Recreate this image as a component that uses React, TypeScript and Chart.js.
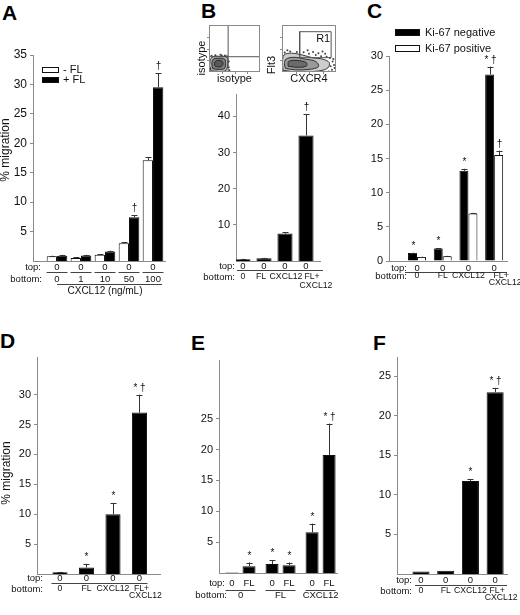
import React, { useEffect, useRef } from "react";
import { Chart, registerables } from "chart.js";

Chart.register(...registerables);

const FONT = '"Liberation Sans", Arial, Helvetica, sans-serif';
const INK = "#111";
const AXIS = "#8a8a8a";
const RULE = "#444";
const ROW = 9.5;
const CAT = 8.7;
const Y_W = 28;

// ---------- panel A: CXCL12 dose, with and without FL
const aDoses = ["0", "1", "10", "50", "100"];
const aTop = ["0", "0", "0", "0", "0"];
const aDoseTitle = "CXCL12 (ng/mL)";
const aMinusFl = [0.8, 0.5, 1.05, 3.0, 17.1];
const aMinusFlErr = [0.1, 0.1, 0.1, 0.2, 0.5];
const aMinusFlMarks = ["", "", "", "", ""];
const aPlusFl = [0.9, 0.95, 1.6, 7.45, 29.5];
const aPlusFlErr = [0.15, 0.1, 0.15, 0.35, 2.4];
const aPlusFlMarks = ["", "", "", "†", "†"];
const aTicks = [5, 10, 15, 20, 25, 30, 35];
const yTitle = "% migration";

// ---------- panel B: flow plots + migration
const bTop = ["0", "0", "0", "0"];
const bBottom = ["0", "FL", "CXCL12", "FL+\nCXCL12"];
const bValues = [0.5, 0.75, 7.6, 34.7];
const bErr = [0.1, 0.1, 0.4, 5.9];
const bMarks = ["", "", "", "†"];
const bTicks = [10, 20, 30, 40];

const flowDecades = [1, 2, 3];
const isoOuter: [number, number][] = [[0.15, 0.1], [0.7, 0.05], [1.3, 0.1], [1.47, 0.6], [1.42, 1.25], [0.9, 1.33], [0.3, 1.3], [0.07, 0.95], [0.05, 0.45], [0.15, 0.1]];
const isoMid: [number, number][] = [[0.3, 0.28], [0.8, 0.22], [1.22, 0.3], [1.3, 0.7], [1.22, 1.1], [0.75, 1.16], [0.33, 1.08], [0.22, 0.68], [0.3, 0.28]];
const isoInner: [number, number][] = [[0.5, 0.48], [0.92, 0.44], [1.1, 0.7], [0.98, 0.95], [0.56, 0.95], [0.42, 0.7], [0.5, 0.48]];
const isoDots: [number, number][] = [[0.1, 0.3], [0.2, 1.38], [0.5, 1.42], [1.0, 1.4], [1.4, 1.33], [1.55, 0.9], [1.55, 0.4], [0.04, 0.8], [1.3, 0.05], [0.6, 0.02], [0.9, 1.47], [1.6, 0.15], [1.25, 1.4], [0.35, 0.02]];
const isoVLine: [number, number][] = [[1.5, 0], [1.5, 4]];
const isoHLine: [number, number][] = [[0, 1.3], [4, 1.3]];

const cxOuter: [number, number][] = [[0.08, 0.15], [0.8, 0.03], [1.8, 0.03], [2.8, 0.1], [3.4, 0.35], [3.5, 0.8], [3.0, 1.1], [2.3, 1.2], [1.5, 1.45], [0.7, 1.6], [0.15, 1.45], [0.04, 0.8], [0.08, 0.15]];
const cxMid: [number, number][] = [[0.25, 0.3], [1.0, 0.18], [2.0, 0.22], [2.7, 0.45], [2.5, 0.9], [1.7, 1.1], [0.9, 1.25], [0.3, 1.1], [0.18, 0.7], [0.25, 0.3]];
const cxInner: [number, number][] = [[0.45, 0.5], [1.1, 0.4], [1.8, 0.5], [1.8, 0.8], [1.1, 0.98], [0.5, 0.9], [0.45, 0.5]];
const cxDots: [number, number][] = [[3.6, 0.5], [3.7, 0.2], [3.75, 0.9], [3.55, 1.2], [3.3, 1.3], [2.9, 1.35], [2.5, 1.45], [2.0, 1.55], [1.1, 1.7], [0.6, 1.75], [0.2, 1.65], [3.85, 0.6], [3.2, 1.55], [2.7, 1.6], [1.6, 1.68], [0.4, 1.85], [3.8, 1.1], [3.45, 0.05], [3.9, 0.35], [2.3, 1.7], [1.9, 1.85], [3.0, 1.75]];
const r1Gate: [number, number][] = [[1.31, 1.22], [3.64, 1.22], [3.64, 3.43], [1.31, 3.43], [1.31, 1.22]];

// ---------- panel C: Ki-67 negative / positive
const cTop = ["0", "0", "0", "0"];
const cBottom = ["0", "FL", "CXCL12", "FL+\nCXCL12"];
const cNeg = [1.17, 1.83, 13.2, 27.3];
const cNegErr = [0.05, 0.05, 0.3, 1.15];
const cNegMarks = ["*", "*", "*", "* †"];
const cPos = [0.6, 0.7, 6.95, 15.5];
const cPosErr = [0.05, 0.05, 0.1, 0.65];
const cPosMarks = ["", "", "", "†"];
const cTicks = [0, 5, 10, 15, 20, 25, 30];

// ---------- panel D
const dTop = ["0", "0", "0", "0"];
const dBottom = ["0", "FL", "CXCL12", "FL+\nCXCL12"];
const dValues = [0.3, 1.1, 10.0, 27.0];
const dErr = [0.05, 0.6, 1.9, 3.0];
const dMarks = ["", "*", "*", "* †"];
const dTicks = [5, 10, 15, 20, 25, 30];

// ---------- panel E: top chamber 0 / FL
const eBottom = ["0", "FL", "CXCL12"];
const eTopZero = [0.1, 1.45, 6.6];
const eTopZeroErr = [0, 0.6, 1.4];
const eTopZeroMarks = ["", "*", "*"];
const eTopFl = [1.1, 1.25, 19.1];
const eTopFlErr = [0.6, 0.45, 5.1];
const eTopFlMarks = ["*", "*", "* †"];
const eTicks = [5, 10, 15, 20, 25];

// ---------- panel F
const fTop = ["0", "0", "0", "0"];
const fBottom = ["0", "FL", "CXCL12", "FL+\nCXCL12"];
const fValues = [0.3, 0.4, 11.75, 22.95];
const fErr = [0, 0, 0.25, 0.55];
const fMarks = ["", "", "*", "* †"];
const fTicks = [5, 10, 15, 20, 25];

type Box = { x: number; y: number; w: number; h: number };
type Area = { left: number; top: number; right: number; bottom: number };
type Series = { label: string; values: number[]; errors: number[]; marks: string[]; fill: string };

function padFor(box: Box, area: Area, yw: number) {
  return {
    left: area.left - box.x - yw,
    top: area.top - box.y,
    right: box.x + box.w - area.right,
    bottom: box.y + box.h - area.bottom,
  };
}

function text(ctx: any, str: string, x: number, y: number, size: number, align = "center", baseline = "middle") {
  ctx.save();
  ctx.font = `${size}px ${FONT}`;
  ctx.fillStyle = INK;
  ctx.textAlign = align;
  ctx.textBaseline = baseline;
  ctx.fillText(str, x, y);
  ctx.restore();
}

function vtext(ctx: any, str: string, x: number, y: number, size: number) {
  ctx.save();
  ctx.translate(x, y);
  ctx.rotate(-Math.PI / 2);
  text(ctx, str, 0, 0, size);
  ctx.restore();
}

function hline(ctx: any, x1: number, x2: number, y: number) {
  ctx.save();
  ctx.strokeStyle = RULE;
  ctx.lineWidth = 1;
  ctx.beginPath();
  ctx.moveTo(x1, Math.round(y) + 0.5);
  ctx.lineTo(x2, Math.round(y) + 0.5);
  ctx.stroke();
  ctx.restore();
}

// stacked labels such as "FL+ / CXCL12"
function rowLabels(ctx: any, labels: string[], px: (i: number) => number, y: number, gap: number, shift: number) {
  labels.forEach((l, i) => {
    const lines = l.split("\n");
    const dx = lines.length > 1 ? shift : 0;
    lines.forEach((s, k) => text(ctx, s, px(i) + dx + k * 4, y + k * gap, CAT));
  });
}

function drawErrors(chart: any, series: Series[]) {
  const { ctx } = chart;
  const y = chart.scales.y;
  series.forEach((s, di) => {
    chart.getDatasetMeta(di).data.forEach((el: any, i: number) => {
      const err = s.errors[i];
      const top = y.getPixelForValue(s.values[i] + err);
      const cx = Math.round(el.x) + 0.5;
      if (err > 0) {
        ctx.save();
        ctx.strokeStyle = "#333";
        ctx.lineWidth = 1;
        ctx.beginPath();
        ctx.moveTo(cx, el.y);
        ctx.lineTo(cx, top);
        ctx.moveTo(cx - 3, Math.round(top) + 0.5);
        ctx.lineTo(cx + 3, Math.round(top) + 0.5);
        ctx.stroke();
        ctx.restore();
      }
      if (s.marks[i]) text(ctx, s.marks[i], cx, top - 4, 10, "center", "alphabetic");
    });
  });
}

function drawLegend(ctx: any, chart: any, x: number, y: number, w: number, h: number, step: number, gap: number) {
  chart.data.datasets.forEach((d: any, i: number) => {
    const ry = y + i * step;
    ctx.save();
    ctx.fillStyle = d.backgroundColor;
    ctx.fillRect(x, ry, w, h);
    ctx.strokeStyle = INK;
    ctx.lineWidth = 1;
    ctx.strokeRect(x + 0.5, ry + 0.5, w - 1, h - 1);
    ctx.restore();
    text(ctx, d.label, x + w + gap, ry + h / 2, 11, "left");
  });
}

type BarPanel = {
  box: Box;
  area: Area;
  xMin: number;
  xMax: number;
  yMax: number;
  yTicks: number[];
  series: Series[];
  cat: number;
  bar: number;
  tickSize: number;
  decorate: (chart: any) => void;
};

function barConfig(p: BarPanel) {
  return {
    type: "bar",
    data: {
      datasets: p.series.map((s) => ({
        label: s.label,
        data: s.values.map((v, i) => ({ x: i, y: v })),
        backgroundColor: s.fill,
        borderColor: INK,
        borderWidth: 1,
        categoryPercentage: p.cat,
        barPercentage: p.bar,
      })),
    },
    options: {
      animation: false,
      responsive: true,
      maintainAspectRatio: false,
      events: [],
      layout: { padding: padFor(p.box, p.area, Y_W) },
      plugins: { legend: { display: false }, tooltip: { enabled: false } },
      scales: {
        x: {
          type: "linear",
          min: p.xMin,
          max: p.xMax,
          offset: false,
          afterBuildTicks: (s: any) => {
            s.ticks = [];
          },
          ticks: { display: false },
          grid: { display: false },
          border: { display: true, color: AXIS, width: 1 },
        },
        y: {
          type: "linear",
          min: 0,
          max: p.yMax,
          afterFit: (s: any) => {
            s.width = Y_W;
          },
          afterBuildTicks: (s: any) => {
            s.ticks = p.yTicks.map((v) => ({ value: v }));
          },
          ticks: { color: INK, padding: 3, font: { family: FONT, size: p.tickSize } },
          grid: { display: true, drawOnChartArea: false, drawTicks: true, tickLength: 3, color: AXIS },
          border: { display: true, color: AXIS, width: 1 },
        },
      },
    },
    plugins: [
      {
        id: "decor",
        afterDraw: (chart: any) => {
          drawErrors(chart, p.series);
          p.decorate(chart);
        },
      },
    ],
  };
}

const pts = (a: [number, number][]) => a.map(([x, y]) => ({ x, y }));
const contour = (a: [number, number][], shade: string) => ({
  data: pts(a),
  showLine: true,
  borderColor: "#222",
  borderWidth: 0.9,
  backgroundColor: shade,
  fill: "shape",
  pointRadius: 0,
  tension: 0.35,
});
const dots = (a: [number, number][]) => ({
  data: pts(a),
  showLine: false,
  pointRadius: 1,
  pointBackgroundColor: "#444",
  pointBorderWidth: 0,
});
const rule = (a: [number, number][]) => ({
  data: pts(a),
  showLine: true,
  borderColor: "#555",
  borderWidth: 1,
  pointRadius: 0,
  tension: 0,
});

function flowConfig(box: Box, area: Area, datasets: any[], decorate: (c: any) => void) {
  return {
    type: "scatter",
    data: { datasets },
    options: {
      animation: false,
      responsive: true,
      maintainAspectRatio: false,
      events: [],
      layout: { padding: padFor(box, area, 0) },
      plugins: { legend: { display: false }, tooltip: { enabled: false } },
      scales: {
        x: { type: "linear", min: 0, max: 4, ticks: { display: false }, grid: { display: false }, border: { display: false } },
        y: {
          type: "linear",
          min: 0,
          max: 4,
          afterFit: (s: any) => {
            s.width = 0;
          },
          ticks: { display: false },
          grid: { display: false },
          border: { display: false },
        },
      },
    },
    plugins: [{ id: "flowDecor", afterDraw: decorate }],
  };
}

function decorFlow(chart: any, xTitle: string, yLabel: string, dx: number, dy: number) {
  const { ctx, chartArea: ca } = chart;
  const sx = chart.scales.x;
  const sy = chart.scales.y;
  ctx.save();
  ctx.strokeStyle = AXIS;
  ctx.lineWidth = 1;
  ctx.strokeRect(ca.left + 0.5, ca.top + 0.5, ca.width - 1, ca.height - 1);
  ctx.beginPath();
  flowDecades.forEach((d) => {
    const px = Math.round(sx.getPixelForValue(d)) + 0.5;
    ctx.moveTo(px, ca.bottom);
    ctx.lineTo(px, ca.bottom + 2);
    const py = Math.round(sy.getPixelForValue(d)) + 0.5;
    ctx.moveTo(ca.left, py);
    ctx.lineTo(ca.left - 2, py);
  });
  ctx.stroke();
  ctx.restore();
  text(ctx, xTitle, (ca.left + ca.right) / 2, ca.bottom + 7, 11);
  vtext(ctx, yLabel, ca.left - dx, ca.top + dy, 11);
}

// ---------- layouts (page pixels)
const A_BOX = { x: 0, y: 0, w: 175, h: 305 };
const B_BOX = { x: 175, y: 85, w: 165, h: 220 };
const ISO_BOX = { x: 193, y: 20, w: 71, h: 80 };
const CX_BOX = { x: 264, y: 20, w: 76, h: 80 };
const C_BOX = { x: 340, y: 0, w: 180, h: 305 };
const D_BOX = { x: 0, y: 305, w: 175, h: 310 };
const E_BOX = { x: 175, y: 305, w: 165, h: 310 };
const F_BOX = { x: 340, y: 305, w: 180, h: 310 };
// small nudges of the B category labels, as set in the figure
const B_LABEL_NUDGE = [0, -3, 1, 0];

const makeA = () =>
  barConfig({
    box: A_BOX,
    area: { left: 33, top: 55, right: 165, bottom: 269 },
    xMin: -1,
    xMax: 4.5,
    yMax: 35,
    yTicks: aTicks,
    cat: 0.86,
    bar: 1,
    tickSize: 12,
    series: [
      { label: "- FL", values: aMinusFl, errors: aMinusFlErr, marks: aMinusFlMarks, fill: "#fff" },
      { label: "+ FL", values: aPlusFl, errors: aPlusFlErr, marks: aPlusFlMarks, fill: "#000" },
    ],
    decorate: (chart) => {
      const { ctx, chartArea: ca } = chart;
      const x = chart.scales.x;
      const b = ca.bottom;
      text(ctx, "top:", ca.left + 8, b + 6, ROW, "right");
      text(ctx, "bottom:", ca.left + 9, b + 18, ROW, "right");
      aDoses.forEach((d, i) => {
        const cx = x.getPixelForValue(i);
        text(ctx, aTop[i], cx, b + 6, ROW);
        hline(ctx, cx - 10.5, cx + 10.5, b + 11);
        text(ctx, d, cx, b + 18, ROW);
      });
      hline(ctx, x.getPixelForValue(0), x.getPixelForValue(aDoses.length - 1) + 9, b + 23);
      text(ctx, aDoseTitle, x.getPixelForValue(2), b + 30, 10);
      drawLegend(ctx, chart, ca.left + 9, ca.top + 12, 17, 6, 10, 4);
      vtext(ctx, yTitle, ca.left - 27, ca.top + 95, 12);
    },
  });

const makeB = () =>
  barConfig({
    box: B_BOX,
    area: { left: 236, top: 93, right: 320, bottom: 269 },
    xMin: -0.333,
    xMax: 3.667,
    yMax: 46,
    yTicks: bTicks,
    cat: 0.72,
    bar: 1,
    tickSize: 11,
    series: [{ label: "migration", values: bValues, errors: bErr, marks: bMarks, fill: "#000" }],
    decorate: (chart) => {
      const { ctx, chartArea: ca } = chart;
      const x = chart.scales.x;
      const b = ca.bottom;
      text(ctx, "top:", ca.left - 1, b + 5, ROW, "right");
      text(ctx, "bottom:", ca.left - 1, b + 16, ROW, "right");
      bTop.forEach((t, i) => text(ctx, t, x.getPixelForValue(i), b + 5, ROW));
      hline(ctx, ca.left + 1, ca.right + 3, b + 8.5);
      rowLabels(ctx, bBottom, (i) => x.getPixelForValue(i) + B_LABEL_NUDGE[i], b + 16, 9, 6);
    },
  });

const makeIso = () =>
  flowConfig(
    ISO_BOX,
    { left: 209, top: 25, right: 262, bottom: 80 },
    [
      rule(isoVLine),
      rule(isoHLine),
      contour(isoInner, "rgba(0,0,0,0.3)"),
      contour(isoMid, "rgba(0,0,0,0.3)"),
      contour(isoOuter, "rgba(0,0,0,0.3)"),
      dots(isoDots),
    ],
    (chart) => decorFlow(chart, "isotype", "isotype", 7, 33)
  );

const makeCx = () =>
  flowConfig(
    CX_BOX,
    { left: 282, top: 25, right: 338, bottom: 80 },
    [
      rule(r1Gate),
      contour(cxInner, "rgba(0,0,0,0.3)"),
      contour(cxMid, "rgba(0,0,0,0.25)"),
      contour(cxOuter, "rgba(0,0,0,0.2)"),
      dots(cxDots),
    ],
    (chart) => {
      decorFlow(chart, "CXCR4", "Flt3", 10, 40);
      text(chart.ctx, "R1", chart.scales.x.getPixelForValue(3.05), chart.scales.y.getPixelForValue(2.8), 11);
    }
  );

const makeC = () =>
  barConfig({
    box: C_BOX,
    area: { left: 389, top: 56, right: 507, bottom: 269 },
    xMin: -1.09,
    xMax: 3.5,
    yMax: 30,
    yTicks: cTicks,
    cat: 0.7,
    bar: 1,
    tickSize: 11,
    series: [
      { label: "Ki-67 negative", values: cNeg, errors: cNegErr, marks: cNegMarks, fill: "#000" },
      { label: "Ki-67 positive", values: cPos, errors: cPosErr, marks: cPosMarks, fill: "#fff" },
    ],
    decorate: (chart) => {
      const { ctx, chartArea: ca } = chart;
      const x = chart.scales.x;
      const b = ca.bottom;
      text(ctx, "top:", ca.left + 18, b + 7, ROW, "right");
      text(ctx, "bottom:", ca.left + 18, b + 15, ROW, "right");
      cTop.forEach((t, i) => text(ctx, t, x.getPixelForValue(i), b + 7, ROW));
      hline(ctx, ca.left + 16, ca.right, b + 10.5);
      rowLabels(ctx, cBottom, (i) => x.getPixelForValue(i), b + 15, 7, 7);
      drawLegend(ctx, chart, ca.left + 6, ca.top - 27, 25, 7, 16, 5);
    },
  });

const makeD = () =>
  barConfig({
    box: D_BOX,
    area: { left: 37, top: 357, right: 160, bottom: 582 },
    xMin: -0.868,
    xMax: 3.774,
    yMax: 36.3,
    yTicks: dTicks,
    cat: 0.57,
    bar: 1,
    tickSize: 11,
    series: [{ label: "migration", values: dValues, errors: dErr, marks: dMarks, fill: "#000" }],
    decorate: (chart) => {
      const { ctx, chartArea: ca } = chart;
      const x = chart.scales.x;
      const b = ca.bottom;
      text(ctx, "top:", ca.left + 6, b + 4, ROW, "right");
      text(ctx, "bottom:", ca.left + 6, b + 15, ROW, "right");
      dTop.forEach((t, i) => text(ctx, t, x.getPixelForValue(i), b + 4, ROW));
      hline(ctx, x.getPixelForValue(0) - 8.5, x.getPixelForValue(dTop.length - 1) + 8, b + 9);
      rowLabels(ctx, dBottom, (i) => x.getPixelForValue(i), b + 15, 7, 2);
      vtext(ctx, yTitle, ca.left - 30, ca.top + 116, 12);
    },
  });

const makeE = () =>
  barConfig({
    box: E_BOX,
    area: { left: 219, top: 360, right: 337, bottom: 581 },
    xMin: -0.5375,
    xMax: 2.41,
    yMax: 34.5,
    yTicks: eTicks,
    cat: 0.85,
    bar: 0.765,
    tickSize: 11,
    series: [
      { label: "0", values: eTopZero, errors: eTopZeroErr, marks: eTopZeroMarks, fill: "#000" },
      { label: "FL", values: eTopFl, errors: eTopFlErr, marks: eTopFlMarks, fill: "#000" },
    ],
    decorate: (chart) => {
      const { ctx, chartArea: ca } = chart;
      const x = chart.scales.x;
      const b = ca.bottom;
      text(ctx, "top:", ca.left + 6, b + 10, ROW, "right");
      text(ctx, "bottom:", ca.left + 8, b + 22, ROW, "right");
      chart.data.datasets.forEach((d: any, di: number) => {
        chart.getDatasetMeta(di).data.forEach((el: any) => text(ctx, d.label, el.x, b + 10, ROW));
      });
      eBottom.forEach((l, i) => {
        const cx = x.getPixelForValue(i);
        hline(ctx, cx - 15, cx + 15, b + 16.5);
        text(ctx, l, cx, b + 22, ROW);
      });
    },
  });

const makeF = () =>
  barConfig({
    box: F_BOX,
    area: { left: 397, top: 357, right: 507, bottom: 582 },
    xMin: -0.97,
    xMax: 3.48,
    yMax: 27.4,
    yTicks: fTicks,
    cat: 0.69,
    bar: 1,
    tickSize: 11,
    series: [{ label: "migration", values: fValues, errors: fErr, marks: fMarks, fill: "#000" }],
    decorate: (chart) => {
      const { ctx, chartArea: ca } = chart;
      const x = chart.scales.x;
      const b = ca.bottom;
      text(ctx, "top:", ca.left + 15, b + 6, ROW, "right");
      text(ctx, "bottom:", ca.left + 15, b + 17, ROW, "right");
      fTop.forEach((t, i) => text(ctx, t, x.getPixelForValue(i), b + 6, ROW));
      hline(ctx, ca.left + 18, ca.right, b + 11);
      rowLabels(ctx, fBottom, (i) => x.getPixelForValue(i), b + 17, 7, 2);
    },
  });

function ChartBox({ box, make }: { box: Box; make: () => any }) {
  const ref = useRef<HTMLCanvasElement>(null);
  useEffect(() => {
    if (!ref.current) return;
    const chart = new Chart(ref.current, make());
    return () => chart.destroy();
  }, [make]);
  return (
    <div style={{ position: "absolute", left: box.x, top: box.y, width: box.w, height: box.h }}>
      <canvas ref={ref} />
    </div>
  );
}

const LETTERS = [
  { t: "A", x: 2, y: 2 },
  { t: "B", x: 201, y: 0 },
  { t: "C", x: 367, y: 0 },
  { t: "D", x: 0, y: 330 },
  { t: "E", x: 191, y: 332 },
  { t: "F", x: 373, y: 332 },
];

export default function App() {
  return (
    <div
      style={{
        position: "fixed",
        left: 0,
        top: 0,
        width: 520,
        height: 615,
        background: "#fff",
        overflow: "hidden",
      }}
    >
      {LETTERS.map((l) => (
        <div
          key={l.t}
          style={{
            position: "absolute",
            left: l.x,
            top: l.y,
            font: `bold 21px/21px ${FONT}`,
            color: "#000",
          }}
        >
          {l.t}
        </div>
      ))}
      <ChartBox box={A_BOX} make={makeA} />
      <ChartBox box={ISO_BOX} make={makeIso} />
      <ChartBox box={CX_BOX} make={makeCx} />
      <ChartBox box={B_BOX} make={makeB} />
      <ChartBox box={C_BOX} make={makeC} />
      <ChartBox box={D_BOX} make={makeD} />
      <ChartBox box={E_BOX} make={makeE} />
      <ChartBox box={F_BOX} make={makeF} />
    </div>
  );
}
